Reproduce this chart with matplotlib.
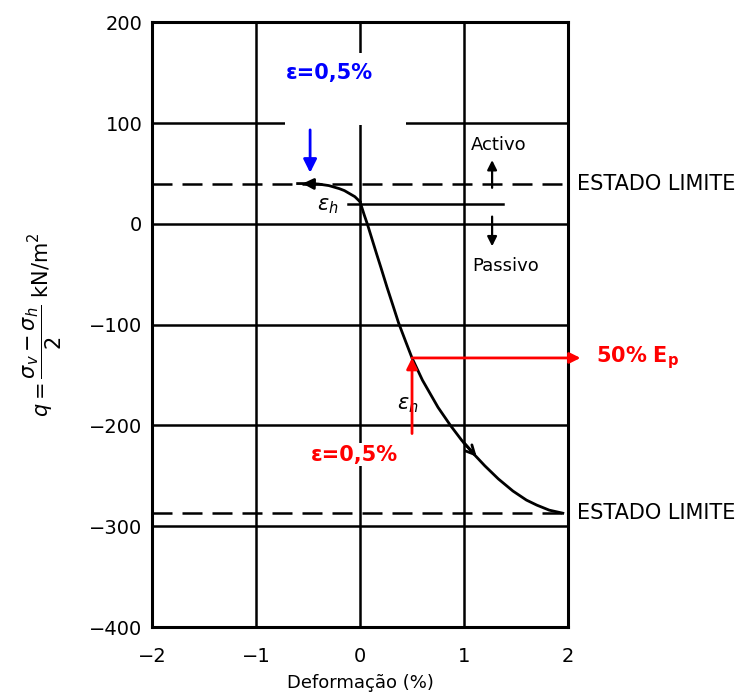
import matplotlib
matplotlib.use("Agg")
import matplotlib.pyplot as plt
from matplotlib.patches import Rectangle

plt.rcParams['font.family'] = ['DejaVu Sans']
plt.rcParams['mathtext.fontset'] = 'custom'
plt.rcParams['mathtext.bf'] = 'DejaVu Sans:bold'
plt.rcParams['mathtext.it'] = 'DejaVu Sans:italic'
plt.rcParams['mathtext.rm'] = 'DejaVu Sans'

# ramo activo (vai para a esquerda) e ramo passivo (vai para a direita)
active_x = [0.0, -0.05, -0.1, -0.15, -0.2, -0.3, -0.4, -0.5, -0.6]
active_y = [22, 27, 30, 33, 35, 38, 39.5, 40, 40]
passive_x = [0.0, 0.04, 0.07, 0.1, 0.16, 0.2, 0.26, 0.32, 0.37, 0.44, 0.5, 0.6,
             0.75, 0.87, 0.98, 1.1, 1.2, 1.33, 1.47, 1.6, 1.7, 1.82, 1.95]
passive_y = [22, 9, 0, -10, -30, -43, -63, -82, -98, -117, -133, -155,
             -182, -200, -215, -229, -240, -253, -265, -274, -279, -284, -287]

limite_activo = 40
limite_passivo = -287
eps_h_level = 20

x_ticks = [-2, -1, 0, 1, 2]
y_ticks = [-400, -300, -200, -100, 0, 100, 200]

fig = plt.figure(figsize=(7.43, 6.96), dpi=100)
ax = fig.add_axes([0.2046, 0.099, 0.5599, 0.869])
ax.set_xlim(-2, 2)
ax.set_ylim(-400, 200)
ax.set_xticks(x_ticks)
ax.set_yticks(y_ticks)
ax.set_xticklabels(['\u22122', '\u22121', '0', '1', '2'])
ax.set_yticklabels(['\u2212400', '\u2212300', '\u2212200', '\u2212100', '0', '100', '200'])
ax.tick_params(length=0, labelsize=14)
ax.tick_params(axis='x', pad=14)
ax.tick_params(axis='y', pad=7)
ax.set_axisbelow(True)
ax.grid(True, color='black', lw=1.8)
for s in ax.spines.values():
    s.set_linewidth(2.2)

# zona branca por tras do texto azul
ax.add_patch(Rectangle((-0.72, 98), 1.16, 72, facecolor='white', edgecolor='none', zorder=1))

# linhas de estado limite
for lv in (limite_activo, limite_passivo):
    ax.plot([-2, 2.0], [lv, lv], color='black', lw=1.8, ls=(0, (8, 4)),
            clip_on=False, zorder=2)
    ax.text(2.09, lv, 'ESTADO LIMITE', fontsize=15, va='center', ha='left')

# curvas
ax.plot(active_x, active_y, color='black', lw=2, zorder=3)
ax.plot(passive_x, passive_y, color='black', lw=2, zorder=3)
ax.annotate('', xy=(active_x[-2] - 0.08, active_y[-2]), xytext=(active_x[-3], active_y[-3]),
            arrowprops=dict(arrowstyle='-|>', color='black', lw=2, mutation_scale=16), zorder=4)
ax.annotate('', xy=(passive_x[15] + 0.04, passive_y[15] - 4), xytext=(passive_x[14], passive_y[14]),
            arrowprops=dict(arrowstyle='->', color='black', lw=2, mutation_scale=16), zorder=4)

# linha de eps_h e seta activo/passivo
ax.plot([-0.12, 1.37], [eps_h_level, eps_h_level], color='black', lw=1.8, zorder=3)
ax.text(-0.31, eps_h_level - 2, r'$\epsilon_h$', fontsize=15, ha='center', va='center')
ax.annotate('', xy=(1.27, 66), xytext=(1.27, 33),
            arrowprops=dict(arrowstyle='-|>', color='black', lw=1.6, mutation_scale=14))
ax.annotate('', xy=(1.27, -25), xytext=(1.27, 10),
            arrowprops=dict(arrowstyle='-|>', color='black', lw=1.6, mutation_scale=14))
ax.text(1.33, 78, 'Activo', fontsize=13, ha='center', va='center')
ax.text(1.4, -42, 'Passivo', fontsize=13, ha='center', va='center')
ax.text(0.46, -180, r'$\epsilon_h$', fontsize=15, ha='center', va='center')

# anotacoes azuis
ax.text(-0.29, 150, '\u03b5=0,5%', color='blue', fontsize=15, fontweight='bold',
        ha='center', va='center', zorder=5)
ax.annotate('', xy=(-0.48, 48), xytext=(-0.48, 96),
            arrowprops=dict(arrowstyle='-|>', color='blue', lw=2, mutation_scale=20), zorder=5)

# anotacoes vermelhas
ax.annotate('', xy=(0.5, -133), xytext=(0.5, -208),
            arrowprops=dict(arrowstyle='-|>', color='red', lw=2, mutation_scale=16,
                            shrinkA=0, shrinkB=0), zorder=5)
ax.annotate('', xy=(2.12, -133), xytext=(0.5, -133),
            arrowprops=dict(arrowstyle='-|>', color='red', lw=2, mutation_scale=16,
                            shrinkA=0, shrinkB=0), annotation_clip=False, zorder=5)
ax.text(2.27, -133, r'$\mathbf{50\%\ E_p}$', color='red', fontsize=15,
        ha='left', va='center', zorder=5)
ax.text(-0.05, -229, '\u03b5=0,5%', color='red', fontsize=15, fontweight='bold',
        ha='center', va='center', zorder=5,
        bbox=dict(facecolor='white', edgecolor='none', pad=1))

ax.set_xlabel('Deformação (%)', fontsize=13, labelpad=6)
ax.set_ylabel(r'$q = \dfrac{\sigma_v - \sigma_h}{2}$ kN/m$^2$', fontsize=15, labelpad=18)

fig.savefig('out.png', dpi=100)
